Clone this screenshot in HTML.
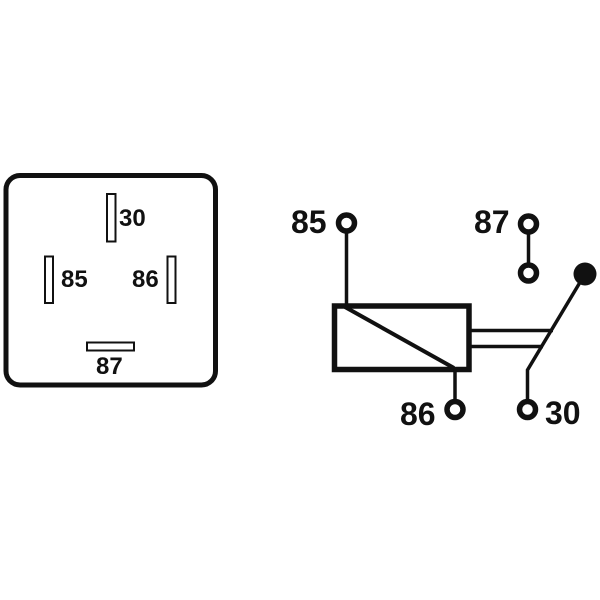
<!DOCTYPE html>
<html>
<head>
<meta charset="utf-8">
<style>
  html,body{margin:0;padding:0;background:#fff;}
  svg{display:block;}
  text{font-family:"Liberation Sans",Arial,sans-serif;font-weight:bold;fill:#111;}
</style>
</head>
<body>
<svg width="600" height="600" viewBox="0 0 600 600" xmlns="http://www.w3.org/2000/svg">
  <rect x="0" y="0" width="600" height="600" fill="#fff"/>

  <!-- Left: relay footprint -->
  <rect x="6" y="175.5" width="209.5" height="209.5" rx="14" ry="14" fill="none" stroke="#111" stroke-width="5"/>
  <!-- pin 30 -->
  <rect x="107" y="194" width="8.5" height="47.5" fill="none" stroke="#111" stroke-width="2"/>
  <text x="119" y="226" font-size="24">30</text>
  <!-- pin 85 -->
  <rect x="45" y="256.5" width="8" height="46.5" fill="none" stroke="#111" stroke-width="2"/>
  <text x="61" y="287" font-size="24">85</text>
  <!-- pin 86 -->
  <rect x="167.5" y="256.5" width="8" height="46.5" fill="none" stroke="#111" stroke-width="2"/>
  <text x="132" y="287" font-size="24">86</text>
  <!-- pin 87 -->
  <rect x="87" y="342.5" width="47" height="8" fill="none" stroke="#111" stroke-width="2"/>
  <text x="96" y="374" font-size="24">87</text>

  <!-- Right: schematic -->
  <!-- 85 terminal -->
  <text x="291" y="233" font-size="32">85</text>
  <line x1="346.5" y1="231" x2="346.5" y2="306" stroke="#111" stroke-width="3.5"/>
  <circle cx="346.5" cy="223" r="8" fill="#fff" stroke="#111" stroke-width="5.5"/>

  <!-- coil -->
  <rect x="334.5" y="306" width="134.5" height="63.5" fill="none" stroke="#111" stroke-width="5.5"/>
  <line x1="345" y1="307" x2="454" y2="368" stroke="#111" stroke-width="4"/>

  <!-- 86 terminal -->
  <line x1="455" y1="369" x2="455" y2="405" stroke="#111" stroke-width="3.5"/>
  <circle cx="455" cy="409.5" r="8" fill="#fff" stroke="#111" stroke-width="5.5"/>
  <text x="400" y="425" font-size="32">86</text>

  <!-- mechanical linkage -->
  <line x1="471" y1="330.5" x2="553" y2="330.5" stroke="#111" stroke-width="3.5"/>
  <line x1="471" y1="346.5" x2="543" y2="346.5" stroke="#111" stroke-width="3.5"/>

  <!-- 87 terminals -->
  <text x="474" y="233" font-size="32">87</text>
  <line x1="528.5" y1="224" x2="528.5" y2="273" stroke="#111" stroke-width="3.5"/>
  <circle cx="528.5" cy="224" r="8" fill="#fff" stroke="#111" stroke-width="5.5"/>
  <circle cx="528.5" cy="273" r="8" fill="#fff" stroke="#111" stroke-width="5.5"/>

  <!-- switch arm -->
  <polyline points="585,274 527.5,370 527.5,405" fill="none" stroke="#111" stroke-width="3.5"/>
  <circle cx="585" cy="274" r="11.5" fill="#111"/>
  <circle cx="527.5" cy="409.5" r="8" fill="#fff" stroke="#111" stroke-width="5.5"/>
  <text x="545" y="424" font-size="32">30</text>
</svg>
</body>
</html>
